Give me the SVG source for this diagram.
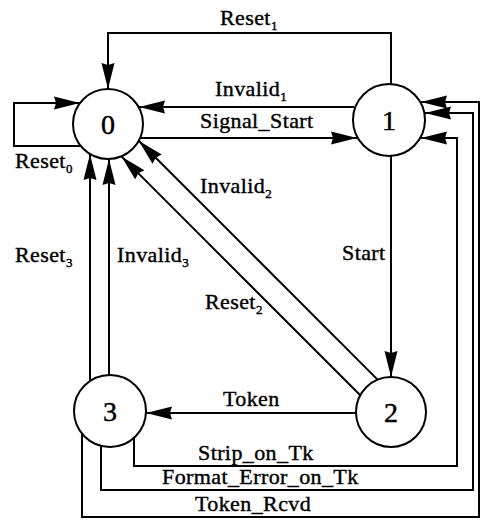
<svg xmlns="http://www.w3.org/2000/svg" width="481" height="522" viewBox="0 0 481 522">
  <style>
    .state { fill: #fff; stroke: #000; stroke-width: 2; }
    .num { font-family: "Liberation Serif", "Times New Roman", serif; font-size: 28px; text-anchor: middle; fill: #000; stroke: #000; stroke-width: 0.5; }
    .edge { fill: none; stroke: #000; stroke-width: 2; marker-end: url(#head); }
    .lbl { font-family: "Liberation Serif", "Times New Roman", serif; font-size: 22px; letter-spacing: 0.4px; fill: #000; stroke: #000; stroke-width: 0.4; }
    .sub { font-size: 13px; }
  </style>
  <defs>
    <marker id="head" markerUnits="userSpaceOnUse" markerWidth="26" markerHeight="14" refX="26" refY="7" orient="auto">
      <path d="M0,0.5 L26,7 L0,13.5 L2,7 Z" fill="#000"/>
    </marker>
  </defs>
  <rect width="481" height="522" fill="#fff"/>

  <g id="connectors">
    <!-- Reset1: 1 -> 0 over the top -->
    <path class="edge" d="M391,84 V33 H108 V89"/>
    <!-- Reset0: self loop on 0 -->
    <path class="edge" d="M81,146 H14 V103 H80"/>
    <!-- Invalid1: 1 -> 0 -->
    <path class="edge" d="M354,107 H139"/>
    <!-- Signal_Start: 0 -> 1 -->
    <path class="edge" d="M140,138 H357"/>
    <!-- Start: 1 -> 2 -->
    <path class="edge" d="M391,156 V377"/>
    <!-- Invalid2 / Reset2: 2 -> 0 -->
    <path class="edge" d="M377.6,379.6 L138.7,140.7"/>
    <path class="edge" d="M360.3,395.3 L121.4,156.4"/>
    <!-- Token: 2 -> 3 -->
    <path class="edge" d="M356,413 H146"/>
    <!-- Reset3 / Invalid3: 3 -> 0 -->
    <path class="edge" d="M90,381 V154"/>
    <path class="edge" d="M109,375 V159"/>
    <!-- Strip_on_Tk: 3 -> 1 -->
    <path class="edge" d="M134,438 V466 H457 V138 H421"/>
    <!-- Format_Error_on_Tk: 3 -> 1 -->
    <path class="edge" d="M101,446 V490 H473 V113 H425"/>
    <!-- Token_Rcvd: 3 -> 1 -->
    <path class="edge" d="M82,434 V517 H479 V102 H421"/>
  </g>

  <g id="labels">
    <text class="lbl" x="220" y="25">Reset<tspan class="sub" dy="5">1</tspan></text>
    <text class="lbl" x="215" y="96">Invalid<tspan class="sub" dy="5">1</tspan></text>
    <text class="lbl" x="200" y="128">Signal_Start</text>
    <text class="lbl" x="15" y="168">Reset<tspan class="sub" dy="5">0</tspan></text>
    <text class="lbl" x="200" y="193">Invalid<tspan class="sub" dy="5">2</tspan></text>
    <text class="lbl" x="342" y="260">Start</text>
    <text class="lbl" x="15" y="262">Reset<tspan class="sub" dy="5">3</tspan></text>
    <text class="lbl" x="117" y="262">Invalid<tspan class="sub" dy="5">3</tspan></text>
    <text class="lbl" x="205" y="309">Reset<tspan class="sub" dy="5">2</tspan></text>
    <text class="lbl" x="223" y="406">Token</text>
    <text class="lbl" x="198" y="460">Strip_on_Tk</text>
    <text class="lbl" x="162" y="484">Format_Error_on_Tk</text>
    <text class="lbl" x="195" y="511">Token_Rcvd</text>
  </g>

  <g id="state0">
    <circle class="state" cx="108" cy="124" r="35"/>
    <text class="num" x="108" y="134">0</text>
  </g>
  <g id="state1">
    <circle class="state" cx="389" cy="120" r="36"/>
    <text class="num" x="389" y="130">1</text>
  </g>
  <g id="state2">
    <circle class="state" cx="391" cy="412" r="35"/>
    <text class="num" x="391" y="422">2</text>
  </g>
  <g id="state3">
    <circle class="state" cx="110" cy="411" r="36"/>
    <text class="num" x="110" y="421">3</text>
  </g>
</svg>
